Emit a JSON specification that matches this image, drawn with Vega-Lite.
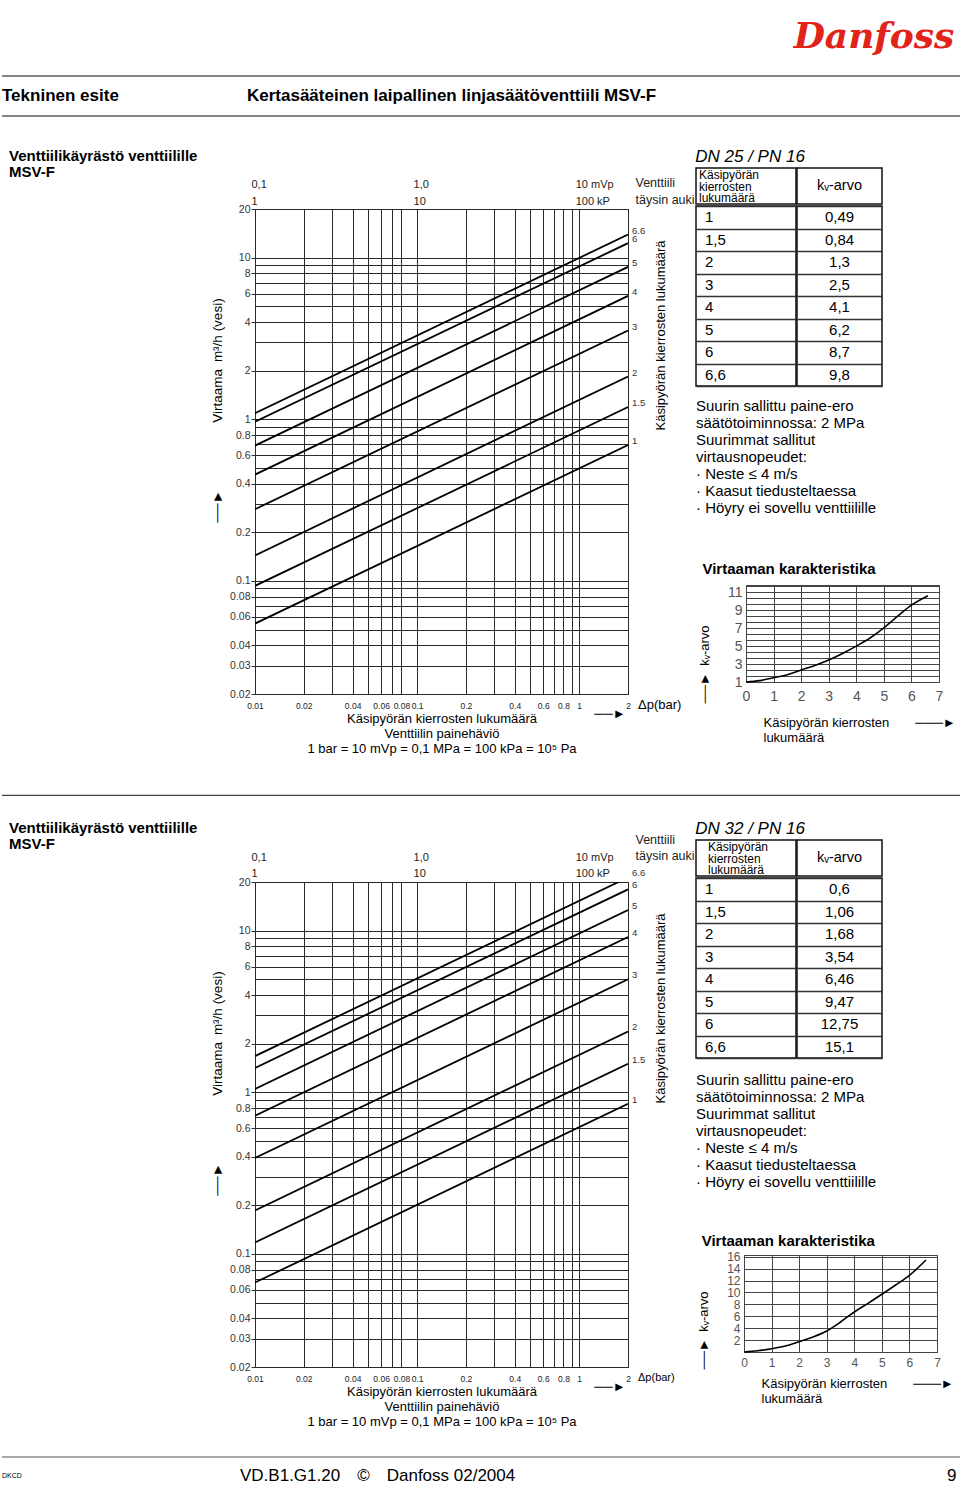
{
"$schema": "https://vega.github.io/schema/vega-lite/v6.json",
"background": "white",
"padding": 0,
"spacing": 0,
"config": {
  "font": "Liberation Sans, Arial, Helvetica, sans-serif",
  "view": {"stroke": "transparent"},
  "concat": {"spacing": 0},
  "title": {"color": "black", "fontWeight": "normal", "font": "Liberation Sans, Arial, sans-serif"},
  "axis": {"labelColor": "#222", "titleColor": "black", "titleFontWeight": "normal", "titleFont": "Liberation Sans, Arial, sans-serif"},
  "text": {"color": "black", "font": "Liberation Sans, Arial, sans-serif"}
},
"datasets": {
  "tyhjä": [],
  "dn25_lines": [
    {"kierrokset": "1", "dp": 0.01, "q": 0.0545}, {"kierrokset": "1", "dp": 2, "q": 0.693},
    {"kierrokset": "1.5", "dp": 0.01, "q": 0.0933}, {"kierrokset": "1.5", "dp": 2, "q": 1.19},
    {"kierrokset": "2", "dp": 0.01, "q": 0.144}, {"kierrokset": "2", "dp": 2, "q": 1.84},
    {"kierrokset": "3", "dp": 0.01, "q": 0.278}, {"kierrokset": "3", "dp": 2, "q": 3.54},
    {"kierrokset": "4", "dp": 0.01, "q": 0.455}, {"kierrokset": "4", "dp": 2, "q": 5.8},
    {"kierrokset": "5", "dp": 0.01, "q": 0.688}, {"kierrokset": "5", "dp": 2, "q": 8.77},
    {"kierrokset": "6", "dp": 0.01, "q": 0.966}, {"kierrokset": "6", "dp": 2, "q": 12.3},
    {"kierrokset": "6.6", "dp": 0.01, "q": 1.09}, {"kierrokset": "6.6", "dp": 2, "q": 13.9}
  ],
  "dn32_lines": [
    {"kierrokset": "1", "dp": 0.01, "q": 0.0666}, {"kierrokset": "1", "dp": 2, "q": 0.849},
    {"kierrokset": "1.5", "dp": 0.01, "q": 0.118}, {"kierrokset": "1.5", "dp": 2, "q": 1.5},
    {"kierrokset": "2", "dp": 0.01, "q": 0.186}, {"kierrokset": "2", "dp": 2, "q": 2.38},
    {"kierrokset": "3", "dp": 0.01, "q": 0.393}, {"kierrokset": "3", "dp": 2, "q": 5.01},
    {"kierrokset": "4", "dp": 0.01, "q": 0.717}, {"kierrokset": "4", "dp": 2, "q": 9.14},
    {"kierrokset": "5", "dp": 0.01, "q": 1.05}, {"kierrokset": "5", "dp": 2, "q": 13.4},
    {"kierrokset": "6", "dp": 0.01, "q": 1.415}, {"kierrokset": "6", "dp": 2, "q": 18.0},
    {"kierrokset": "6.6", "dp": 0.01, "q": 1.676}, {"kierrokset": "6.6", "dp": 2, "q": 21.35}
  ],
  "dn25_table": [
    {"kierrokset": "1", "kv": "0,49"}, {"kierrokset": "1,5", "kv": "0,84"}, {"kierrokset": "2", "kv": "1,3"},
    {"kierrokset": "3", "kv": "2,5"}, {"kierrokset": "4", "kv": "4,1"}, {"kierrokset": "5", "kv": "6,2"},
    {"kierrokset": "6", "kv": "8,7"}, {"kierrokset": "6,6", "kv": "9,8"}
  ],
  "dn32_table": [
    {"kierrokset": "1", "kv": "0,6"}, {"kierrokset": "1,5", "kv": "1,06"}, {"kierrokset": "2", "kv": "1,68"},
    {"kierrokset": "3", "kv": "3,54"}, {"kierrokset": "4", "kv": "6,46"}, {"kierrokset": "5", "kv": "9,47"},
    {"kierrokset": "6", "kv": "12,75"}, {"kierrokset": "6,6", "kv": "15,1"}
  ],
  "notes": [
    {"rivi": 1, "teksti": "Suurin sallittu paine-ero"},
    {"rivi": 2, "teksti": "säätötoiminnossa: 2 MPa"},
    {"rivi": 3, "teksti": "Suurimmat sallitut"},
    {"rivi": 4, "teksti": "virtausnopeudet:"},
    {"rivi": 5, "teksti": "· Neste ≤ 4 m/s"},
    {"rivi": 6, "teksti": "· Kaasut tiedusteltaessa"},
    {"rivi": 7, "teksti": "· Höyry ei sovellu venttiilille"}
  ],
  "dn25_curve": [
    {"kierrokset": 0, "kv": 1.0}, {"kierrokset": 0.5, "kv": 1.15}, {"kierrokset": 1, "kv": 1.48},
    {"kierrokset": 1.5, "kv": 1.8}, {"kierrokset": 2, "kv": 2.33}, {"kierrokset": 2.5, "kv": 2.85},
    {"kierrokset": 3, "kv": 3.45}, {"kierrokset": 3.5, "kv": 4.18}, {"kierrokset": 4, "kv": 5.0},
    {"kierrokset": 4.5, "kv": 5.9}, {"kierrokset": 5, "kv": 7.03}, {"kierrokset": 5.5, "kv": 8.33},
    {"kierrokset": 6, "kv": 9.55}, {"kierrokset": 6.6, "kv": 10.6}
  ],
  "dn32_curve": [
    {"kierrokset": 0, "kv": 0}, {"kierrokset": 0.5, "kv": 0.2}, {"kierrokset": 1, "kv": 0.56},
    {"kierrokset": 1.5, "kv": 1.0}, {"kierrokset": 2, "kv": 1.74}, {"kierrokset": 2.5, "kv": 2.52},
    {"kierrokset": 3, "kv": 3.53}, {"kierrokset": 3.5, "kv": 5.04}, {"kierrokset": 4, "kv": 6.72},
    {"kierrokset": 4.5, "kv": 8.18}, {"kierrokset": 5, "kv": 9.7}, {"kierrokset": 5.5, "kv": 11.26},
    {"kierrokset": 6, "kv": 12.88}, {"kierrokset": 6.6, "kv": 15.46}
  ]
},
"vconcat": [
  {
    "width": 960, "height": 145,
    "resolve": {"scale": {"x": "independent", "y": "independent"}},
    "layer": [
      {"data": {"values": [{"rivi": "ylä"}, {"rivi": "ala"}]},
       "mark": {"type": "rule", "stroke": "#858585", "strokeWidth": 1.8},
       "encoding": {"y": {"field": "rivi", "type": "nominal", "scale": {"type": "point", "domain": ["ylä", "teksti", "ala"], "range": [75, 115], "padding": 0}, "axis": null}}},
      {"data": {"values": [{"rivi": "teksti", "osa": "esite", "teksti": "Tekninen esite"}, {"rivi": "teksti", "osa": "tuote", "teksti": "Kertasääteinen laipallinen linjasäätöventtiili MSV-F"}]},
       "mark": {"type": "text", "align": "left", "baseline": "middle", "fontSize": 17, "fontWeight": "bold"},
       "encoding": {
         "x": {"field": "osa", "type": "nominal", "scale": {"type": "point", "domain": ["esite", "tuote"], "range": [0, 245], "padding": 0}, "axis": null},
         "y": {"field": "rivi", "type": "nominal", "scale": {"type": "point", "domain": ["ylä", "teksti", "ala"], "range": [75, 115], "padding": 0}, "axis": null},
         "text": {"field": "teksti", "type": "nominal"}}},
      {"data": {"values": [{"merkki": "Danfoss"}]},
       "mark": {"type": "text", "align": "center", "baseline": "middle", "font": "DejaVu Serif", "fontStyle": "italic", "fontWeight": "bold", "fontSize": 36, "color": "#e2231a"},
       "encoding": {
         "x": {"field": "merkki", "type": "nominal", "scale": {"type": "point", "range": [872, 872], "padding": 0}, "axis": null},
         "y": {"field": "merkki", "type": "nominal", "scale": {"type": "point", "range": [36, 36], "padding": 0}, "axis": null},
         "text": {"field": "merkki", "type": "nominal"}}}
    ]
  },
  {
    "hconcat": [
      {"width": 6, "height": 1, "data": {"name": "tyhjä"}, "mark": {"type": "text", "text": ""}, "encoding": {}},
      {"vconcat": [
        {"width": 1, "height": 1, "data": {"name": "tyhjä"}, "mark": {"type": "text", "text": ""}, "encoding": {}},
        {
          "width": 373, "height": 485,
          "view": {"stroke": "#111", "strokeWidth": 1},
          "title": {"text": ["Venttiilikäyrästö venttiilille", "MSV-F"], "anchor": "start", "frame": "group", "dx": -246, "offset": -4, "fontSize": 15, "fontWeight": "bold", "lineHeight": 16},
          "resolve": {"axis": {"x": "independent", "y": "independent"}},
          "layer": [
            {"data": {"name": "dn25_lines"},
             "mark": {"type": "line", "color": "black", "strokeWidth": 1.8, "clip": true},
             "encoding": {
               "x": {"field": "dp", "type": "quantitative", "scale": {"type": "log", "domain": [0.01, 2], "nice": false},
                     "axis": {"orient": "bottom", "values": [0.01,0.02,0.03,0.04,0.05,0.06,0.07,0.08,0.1,0.2,0.3,0.4,0.5,0.6,0.7,0.8,0.9,1,2],
                              "labelExpr": "indexof([0.01,0.02,0.04,0.06,0.08,0.1,0.2,0.4,0.6,0.8,1,2], datum.value) >= 0 ? '' + datum.value : ''",
                              "grid": true, "gridColor": "#2a2a2a", "gridWidth": 1, "gridOpacity": 1, "ticks": false, "tickSize": 0, "domain": false,
                              "labelFontSize": 8.5, "labelPadding": 7, "labelFlush": false, "labelOverlap": false, "labelBound": false,
                              "title": ["Käsipyörän kierrosten lukumäärä", "Venttiilin painehäviö", "1 bar = 10 mVp = 0,1 MPa = 100 kPa = 10⁵ Pa"],
                              "titleFontSize": 13, "titleLineHeight": 15, "titlePadding": 3}},
               "y": {"field": "q", "type": "quantitative", "scale": {"type": "log", "domain": [0.02, 20], "nice": false},
                     "axis": {"orient": "left", "values": [0.02,0.03,0.04,0.05,0.06,0.07,0.08,0.09,0.1,0.2,0.3,0.4,0.5,0.6,0.7,0.8,0.9,1,2,3,4,5,6,7,8,9,10,20],
                              "labelExpr": "indexof([0.02,0.03,0.04,0.06,0.08,0.1,0.2,0.4,0.6,0.8,1,2,4,6,8,10,20], datum.value) >= 0 ? '' + datum.value : ''",
                              "grid": true, "gridColor": "#2a2a2a", "gridWidth": 1, "gridOpacity": 1, "domain": false, "ticks": true, "tickSize": 4,
                              "tickColor": {"condition": {"test": "indexof([0.02,0.03,0.04,0.06,0.08,0.1,0.2,0.4,0.6,0.8,1,2,4,6,8,10,20], datum.value) >= 0", "value": "#333"}, "value": "transparent"},
                              "labelFontSize": 10.5, "labelColor": "#333", "labelPadding": 1, "labelFlush": false, "labelOverlap": false, "labelBound": false,
                              "title": "──►\u2003\u2003\u2003\u2003\u2003Virtaama\u2002m³/h (vesi)", "titleFontSize": 13.5, "titlePadding": 5, "titleY": 201}},
               "detail": {"field": "kierrokset", "type": "nominal"}}},
            {"data": {"name": "dn25_lines"},
             "transform": [{"filter": "datum.dp == 2"}],
             "mark": {"type": "text", "align": "left", "baseline": "middle", "dx": 4, "dy": -4, "fontSize": 9.5, "color": "#333"},
             "encoding": {
               "x": {"field": "dp", "type": "quantitative", "scale": {"type": "log", "domain": [0.01, 2], "nice": false},
                     "axis": {"orient": "top", "values": [0.01, 0.1, 1, 2],
                              "labelExpr": "datum.value == 0.01 ? ['0,1', '1'] : datum.value == 0.1 ? ['1,0', '10'] : datum.value == 1 ? ['10 mVp', '100 kP'] : ['Venttiili', 'täysin auki']",
                              "labelAlign": "left",
                              "labelOffset": {"condition": {"test": "datum.value == 2", "value": 7}, "value": -4},
                              "labelFontSize": {"condition": {"test": "datum.value == 2", "value": 12.5}, "value": 11},
                              "labelLineHeight": 17, "labelPadding": 20,
                              "grid": false, "ticks": false, "tickSize": 0, "domain": false, "title": null, "labelFlush": false, "labelOverlap": false, "labelBound": false}},
               "y": {"field": "q", "type": "quantitative", "scale": {"type": "log", "domain": [0.02, 20], "nice": false},
                     "axis": {"orient": "right", "labels": false, "ticks": false, "domain": false, "grid": false,
                              "title": "Käsipyörän kierrosten lukumäärä", "titleAngle": 270, "titleBaseline": "top", "titleY": 126, "titlePadding": 26, "titleFontSize": 13}},
               "text": {"field": "kierrokset", "type": "nominal"}}},
            {"data": {"values": [{"dp": 2, "q": 0.02, "yksikkö": "Δp(bar)"}]},
             "mark": {"type": "text", "align": "left", "baseline": "middle", "dx": 10, "dy": 11, "fontSize": 13},
             "encoding": {
               "x": {"field": "dp", "type": "quantitative", "scale": {"type": "log", "domain": [0.01, 2], "nice": false}, "axis": null},
               "y": {"field": "q", "type": "quantitative", "scale": {"type": "log", "domain": [0.02, 20], "nice": false}, "axis": null},
               "text": {"field": "yksikkö", "type": "nominal"}}},
            {"data": {"values": [{"dp": 2, "q": 0.02}]},
             "mark": {"type": "text", "text": "──►", "align": "center", "baseline": "middle", "dx": -18, "dy": 20, "fontSize": 13},
             "encoding": {
               "x": {"field": "dp", "type": "quantitative", "scale": {"type": "log", "domain": [0.01, 2], "nice": false}, "axis": null},
               "y": {"field": "q", "type": "quantitative", "scale": {"type": "log", "domain": [0.02, 20], "nice": false}, "axis": null}}}
          ]
        }
      ]},
      {"vconcat": [
        {"width": 1, "height": 1, "data": {"name": "tyhjä"}, "mark": {"type": "text", "text": ""}, "encoding": {}},
        {
          "title": {"text": "DN 25 / PN 16", "anchor": "start", "fontSize": 17, "fontStyle": "italic", "offset": 1},
          "spacing": -1,
          "hconcat": [
            {"spacing": 0, "vconcat": [
              {"width": 100, "height": 36, "view": {"stroke": "#111", "strokeWidth": 1.5},
               "data": {"values": [{"otsikko": ["Käsipyörän", "kierrosten", "lukumäärä"]}]},
               "mark": {"type": "text", "align": "left", "baseline": "middle", "dx": -47, "dy": -11, "fontSize": 12, "lineHeight": 11.5},
               "encoding": {"text": {"field": "otsikko", "type": "nominal"}}},
              {"width": 100, "height": 180, "view": {"stroke": "#111", "strokeWidth": 1.5},
               "data": {"name": "dn25_table"},
               "mark": {"type": "text", "align": "left", "baseline": "middle", "dx": -41, "fontSize": 15},
               "encoding": {
                 "y": {"field": "kierrokset", "type": "nominal", "sort": null, "scale": {"type": "band", "paddingInner": 0, "paddingOuter": 0},
                       "axis": {"grid": true, "tickBand": "extent", "labels": false, "ticks": false, "domain": false, "title": null, "gridColor": "#333", "gridWidth": 1.3}},
                 "text": {"field": "kierrokset", "type": "nominal"}}}
            ]},
            {"spacing": 0, "vconcat": [
              {"width": 85, "height": 36, "view": {"stroke": "#111", "strokeWidth": 1.5},
               "data": {"values": [{"otsikko": "kᵥ-arvo"}]},
               "mark": {"type": "text", "align": "center", "baseline": "middle", "fontSize": 14.5},
               "encoding": {"text": {"field": "otsikko", "type": "nominal"}}},
              {"width": 85, "height": 180, "view": {"stroke": "#111", "strokeWidth": 1.5},
               "data": {"name": "dn25_table"},
               "mark": {"type": "text", "align": "center", "baseline": "middle", "fontSize": 15},
               "encoding": {
                 "y": {"field": "kierrokset", "type": "nominal", "sort": null, "scale": {"type": "band", "paddingInner": 0, "paddingOuter": 0},
                       "axis": {"grid": true, "tickBand": "extent", "labels": false, "ticks": false, "domain": false, "title": null, "gridColor": "#333", "gridWidth": 1.3}},
                 "text": {"field": "kv", "type": "nominal"}}}
            ]}
          ]
        },
        {
          "width": 1, "height": 172,
          "data": {"name": "notes"},
          "mark": {"type": "text", "align": "left", "baseline": "middle", "fontSize": 15, "dx": -0.5},
          "encoding": {
            "y": {"field": "rivi", "type": "ordinal", "scale": {"type": "band", "range": [10, 128], "paddingInner": 0, "paddingOuter": 0}, "axis": null},
            "text": {"field": "teksti", "type": "nominal"}}
        },
        {"hconcat": [
          {"width": 1, "height": 1, "data": {"name": "tyhjä"}, "mark": {"type": "text", "text": ""}, "encoding": {}},
          {
            "width": 193, "height": 97,
            "view": {"stroke": "#444", "strokeWidth": 1},
            "title": {"text": "Virtaaman karakteristika", "anchor": "start", "frame": "bounds", "fontSize": 15, "fontWeight": "bold", "offset": 2, "dx": 4},
            "data": {"name": "dn25_curve"},
            "mark": {"type": "line", "color": "black", "strokeWidth": 1.6, "interpolate": "monotone"},
            "encoding": {
              "x": {"field": "kierrokset", "type": "quantitative", "scale": {"domain": [0, 7], "nice": false, "zero": false},
                    "axis": {"values": [0,1,2,3,4,5,6,7], "format": "d", "grid": true, "gridColor": "#444", "gridWidth": 1,
                             "ticks": false, "tickSize": 0, "domain": false,
                             "labelFontSize": 14, "labelColor": "#555", "labelPadding": 7, "labelFlush": false, "labelBound": false, "labelOverlap": false,
                             "title": ["Käsipyörän kierrosten\u2003\u2003───►", "lukumäärä"], "titleAnchor": "start", "titleAlign": "left", "titleX": 17, "titleFontSize": 13, "titleLineHeight": 15, "titlePadding": 13}},
              "y": {"field": "kv", "type": "quantitative", "scale": {"domain": [1, 11.8], "nice": false, "zero": false},
                    "axis": {"values": [1,1.6667,2.3333,3,3.6667,4.3333,5,5.6667,6.3333,7,7.6667,8.3333,9,9.6667,10.3333,11,11.6667],
                             "labelExpr": "indexof([1,3,5,7,9,11], datum.value) >= 0 ? '' + datum.value : ''",
                             "grid": true, "gridColor": "#444", "gridWidth": 1, "ticks": false, "tickSize": 0, "domain": false,
                             "labelFontSize": 14, "labelColor": "#555", "labelPadding": 4, "labelFlush": false, "labelOverlap": false, "labelBound": false,
                             "title": "──►\u2002kᵥ-arvo", "titleFontSize": 13, "titlePadding": 16, "titleY": 79}}}
          }
        ]}
      ]}
    ]
  },
  {
    "width": 960, "height": 61,
    "data": {"values": [{"erotin": "osio"}]},
    "mark": {"type": "rule", "stroke": "#444", "strokeWidth": 1.3},
    "encoding": {"y": {"field": "erotin", "type": "nominal", "scale": {"type": "point", "padding": 0, "align": 0.63}, "axis": null}}
  },
  {
    "hconcat": [
      {"width": 6, "height": 1, "data": {"name": "tyhjä"}, "mark": {"type": "text", "text": ""}, "encoding": {}},
      {"vconcat": [
        {"width": 1, "height": 1, "data": {"name": "tyhjä"}, "mark": {"type": "text", "text": ""}, "encoding": {}},
        {
          "width": 373, "height": 485,
          "view": {"stroke": "#111", "strokeWidth": 1},
          "title": {"text": ["Venttiilikäyrästö venttiilille", "MSV-F"], "anchor": "start", "frame": "group", "dx": -246, "offset": -19, "fontSize": 15, "fontWeight": "bold", "lineHeight": 16},
          "resolve": {"axis": {"x": "independent", "y": "independent"}},
          "layer": [
            {"data": {"name": "dn32_lines"},
             "mark": {"type": "line", "color": "black", "strokeWidth": 1.8, "clip": true},
             "encoding": {
               "x": {"field": "dp", "type": "quantitative", "scale": {"type": "log", "domain": [0.01, 2], "nice": false},
                     "axis": {"orient": "bottom", "values": [0.01,0.02,0.03,0.04,0.05,0.06,0.07,0.08,0.1,0.2,0.3,0.4,0.5,0.6,0.7,0.8,0.9,1,2],
                              "labelExpr": "indexof([0.01,0.02,0.04,0.06,0.08,0.1,0.2,0.4,0.6,0.8,1,2], datum.value) >= 0 ? '' + datum.value : ''",
                              "grid": true, "gridColor": "#2a2a2a", "gridWidth": 1, "gridOpacity": 1, "ticks": false, "tickSize": 0, "domain": false,
                              "labelFontSize": 8.5, "labelPadding": 7, "labelFlush": false, "labelOverlap": false, "labelBound": false,
                              "title": ["Käsipyörän kierrosten lukumäärä", "Venttiilin painehäviö", "1 bar = 10 mVp = 0,1 MPa = 100 kPa = 10⁵ Pa"],
                              "titleFontSize": 13, "titleLineHeight": 15, "titlePadding": 3}},
               "y": {"field": "q", "type": "quantitative", "scale": {"type": "log", "domain": [0.02, 20], "nice": false},
                     "axis": {"orient": "left", "values": [0.02,0.03,0.04,0.05,0.06,0.07,0.08,0.09,0.1,0.2,0.3,0.4,0.5,0.6,0.7,0.8,0.9,1,2,3,4,5,6,7,8,9,10,20],
                              "labelExpr": "indexof([0.02,0.03,0.04,0.06,0.08,0.1,0.2,0.4,0.6,0.8,1,2,4,6,8,10,20], datum.value) >= 0 ? '' + datum.value : ''",
                              "grid": true, "gridColor": "#2a2a2a", "gridWidth": 1, "gridOpacity": 1, "domain": false, "ticks": true, "tickSize": 4,
                              "tickColor": {"condition": {"test": "indexof([0.02,0.03,0.04,0.06,0.08,0.1,0.2,0.4,0.6,0.8,1,2,4,6,8,10,20], datum.value) >= 0", "value": "#333"}, "value": "transparent"},
                              "labelFontSize": 10.5, "labelColor": "#333", "labelPadding": 1, "labelFlush": false, "labelOverlap": false, "labelBound": false,
                              "title": "──►\u2003\u2003\u2003\u2003\u2003Virtaama\u2002m³/h (vesi)", "titleFontSize": 13.5, "titlePadding": 5, "titleY": 201}},
               "detail": {"field": "kierrokset", "type": "nominal"}}},
            {"data": {"name": "dn32_lines"},
             "transform": [{"filter": "datum.dp == 2"}],
             "mark": {"type": "text", "align": "left", "baseline": "middle", "dx": 4, "dy": -4, "fontSize": 9.5, "color": "#333"},
             "encoding": {
               "x": {"field": "dp", "type": "quantitative", "scale": {"type": "log", "domain": [0.01, 2], "nice": false},
                     "axis": {"orient": "top", "values": [0.01, 0.1, 1, 2],
                              "labelExpr": "datum.value == 0.01 ? ['0,1', '1'] : datum.value == 0.1 ? ['1,0', '10'] : datum.value == 1 ? ['10 mVp', '100 kP'] : ['Venttiili', 'täysin auki']",
                              "labelAlign": "left",
                              "labelOffset": {"condition": {"test": "datum.value == 2", "value": 7}, "value": -4},
                              "labelFontSize": {"condition": {"test": "datum.value == 2", "value": 12.5}, "value": 11},
                              "labelPadding": {"condition": {"test": "datum.value == 2", "value": 36}, "value": 20},
                              "labelLineHeight": 16,
                              "grid": false, "ticks": false, "tickSize": 0, "domain": false, "title": null, "labelFlush": false, "labelOverlap": false, "labelBound": false}},
               "y": {"field": "q", "type": "quantitative", "scale": {"type": "log", "domain": [0.02, 20], "nice": false},
                     "axis": {"orient": "right", "labels": false, "ticks": false, "domain": false, "grid": false,
                              "title": "Käsipyörän kierrosten lukumäärä", "titleAngle": 270, "titleBaseline": "top", "titleY": 126, "titlePadding": 26, "titleFontSize": 13}},
               "text": {"field": "kierrokset", "type": "nominal"}}},
            {"data": {"values": [{"dp": 2, "q": 0.02, "yksikkö": "Δp(bar)"}]},
             "mark": {"type": "text", "align": "left", "baseline": "middle", "dx": 10, "dy": 11, "fontSize": 11},
             "encoding": {
               "x": {"field": "dp", "type": "quantitative", "scale": {"type": "log", "domain": [0.01, 2], "nice": false}, "axis": null},
               "y": {"field": "q", "type": "quantitative", "scale": {"type": "log", "domain": [0.02, 20], "nice": false}, "axis": null},
               "text": {"field": "yksikkö", "type": "nominal"}}},
            {"data": {"values": [{"dp": 2, "q": 0.02}]},
             "mark": {"type": "text", "text": "──►", "align": "center", "baseline": "middle", "dx": -18, "dy": 20, "fontSize": 13},
             "encoding": {
               "x": {"field": "dp", "type": "quantitative", "scale": {"type": "log", "domain": [0.01, 2], "nice": false}, "axis": null},
               "y": {"field": "q", "type": "quantitative", "scale": {"type": "log", "domain": [0.02, 20], "nice": false}, "axis": null}}}
          ]
        }
      ]},
      {"vconcat": [
        {"width": 1, "height": 1, "data": {"name": "tyhjä"}, "mark": {"type": "text", "text": ""}, "encoding": {}},
        {
          "title": {"text": "DN 32 / PN 16", "anchor": "start", "fontSize": 17, "fontStyle": "italic", "offset": 1},
          "spacing": -1,
          "hconcat": [
            {"spacing": 0, "vconcat": [
              {"width": 100, "height": 36, "view": {"stroke": "#111", "strokeWidth": 1.5},
               "data": {"values": [{"otsikko": ["Käsipyörän", "kierrosten", "lukumäärä"]}]},
               "mark": {"type": "text", "align": "left", "baseline": "middle", "dx": -38, "dy": -11, "fontSize": 12, "lineHeight": 11.5},
               "encoding": {"text": {"field": "otsikko", "type": "nominal"}}},
              {"width": 100, "height": 180, "view": {"stroke": "#111", "strokeWidth": 1.5},
               "data": {"name": "dn32_table"},
               "mark": {"type": "text", "align": "left", "baseline": "middle", "dx": -41, "fontSize": 15},
               "encoding": {
                 "y": {"field": "kierrokset", "type": "nominal", "sort": null, "scale": {"type": "band", "paddingInner": 0, "paddingOuter": 0},
                       "axis": {"grid": true, "tickBand": "extent", "labels": false, "ticks": false, "domain": false, "title": null, "gridColor": "#333", "gridWidth": 1.3}},
                 "text": {"field": "kierrokset", "type": "nominal"}}}
            ]},
            {"spacing": 0, "vconcat": [
              {"width": 85, "height": 36, "view": {"stroke": "#111", "strokeWidth": 1.5},
               "data": {"values": [{"otsikko": "kᵥ-arvo"}]},
               "mark": {"type": "text", "align": "center", "baseline": "middle", "fontSize": 14.5},
               "encoding": {"text": {"field": "otsikko", "type": "nominal"}}},
              {"width": 85, "height": 180, "view": {"stroke": "#111", "strokeWidth": 1.5},
               "data": {"name": "dn32_table"},
               "mark": {"type": "text", "align": "center", "baseline": "middle", "fontSize": 15},
               "encoding": {
                 "y": {"field": "kierrokset", "type": "nominal", "sort": null, "scale": {"type": "band", "paddingInner": 0, "paddingOuter": 0},
                       "axis": {"grid": true, "tickBand": "extent", "labels": false, "ticks": false, "domain": false, "title": null, "gridColor": "#333", "gridWidth": 1.3}},
                 "text": {"field": "kv", "type": "nominal"}}}
            ]}
          ]
        },
        {
          "width": 1, "height": 172,
          "data": {"name": "notes"},
          "mark": {"type": "text", "align": "left", "baseline": "middle", "fontSize": 15, "dx": -0.5},
          "encoding": {
            "y": {"field": "rivi", "type": "ordinal", "scale": {"type": "band", "range": [12, 130], "paddingInner": 0, "paddingOuter": 0}, "axis": null},
            "text": {"field": "teksti", "type": "nominal"}}
        },
        {"hconcat": [
          {"width": 1, "height": 1, "data": {"name": "tyhjä"}, "mark": {"type": "text", "text": ""}, "encoding": {}},
          {
            "width": 193, "height": 97,
            "view": {"stroke": "#444", "strokeWidth": 1},
            "title": {"text": "Virtaaman karakteristika", "anchor": "start", "frame": "bounds", "fontSize": 15, "fontWeight": "bold", "offset": 2, "dx": 4},
            "data": {"name": "dn32_curve"},
            "mark": {"type": "line", "color": "black", "strokeWidth": 1.6, "interpolate": "monotone"},
            "encoding": {
              "x": {"field": "kierrokset", "type": "quantitative", "scale": {"domain": [0, 7], "nice": false, "zero": false},
                    "axis": {"values": [0,1,2,3,4,5,6,7], "format": "d", "grid": true, "gridColor": "#444", "gridWidth": 1,
                             "ticks": false, "tickSize": 0, "domain": false,
                             "labelFontSize": 12, "labelColor": "#555", "labelPadding": 5, "labelFlush": false, "labelBound": false, "labelOverlap": false,
                             "title": ["Käsipyörän kierrosten\u2003\u2003───►", "lukumäärä"], "titleAnchor": "start", "titleAlign": "left", "titleX": 17, "titleFontSize": 13, "titleLineHeight": 15, "titlePadding": 9}},
              "y": {"field": "kv", "type": "quantitative", "scale": {"domain": [0, 16.3], "nice": false, "zero": false},
                    "axis": {"values": [0,2,4,6,8,10,12,14,16],
                             "labelExpr": "datum.value == 0 ? '' : '' + datum.value",
                             "grid": true, "gridColor": "#444", "gridWidth": 1, "ticks": false, "tickSize": 0, "domain": false,
                             "labelFontSize": 12, "labelColor": "#555", "labelPadding": 4, "labelFlush": false, "labelOverlap": false, "labelBound": false,
                             "title": "──►\u2002kᵥ-arvo", "titleFontSize": 13, "titlePadding": 16, "titleY": 75}}}
          }
        ]}
      ]}
    ]
  },
  {
    "width": 960, "height": 56,
    "resolve": {"scale": {"x": "independent"}},
    "layer": [
      {"data": {"values": [{"rivi": "viiva"}]},
       "mark": {"type": "rule", "stroke": "#555", "strokeWidth": 1.2},
       "encoding": {"y": {"field": "rivi", "type": "nominal", "scale": {"type": "point", "domain": ["viiva", "teksti"], "range": [27, 46], "padding": 0}, "axis": null}}},
      {"data": {"values": [{"rivi": "teksti", "osa": "koodi", "teksti": "DKCD"}]},
       "mark": {"type": "text", "align": "left", "baseline": "middle", "fontSize": 7},
       "encoding": {
         "x": {"field": "osa", "type": "nominal", "scale": {"type": "point", "domain": ["koodi"], "range": [0, 0], "padding": 0}, "axis": null},
         "y": {"field": "rivi", "type": "nominal", "scale": {"type": "point", "domain": ["viiva", "teksti"], "range": [27, 46], "padding": 0}, "axis": null},
         "text": {"field": "teksti", "type": "nominal"}}},
      {"data": {"values": [{"rivi": "teksti", "osa": "julkaisu", "teksti": "VD.B1.G1.20\u2002\u2002©\u2002\u2002Danfoss 02/2004"}, {"rivi": "teksti", "osa": "sivu", "teksti": "9"}]},
       "mark": {"type": "text", "align": "left", "baseline": "middle", "fontSize": 17},
       "encoding": {
         "x": {"field": "osa", "type": "nominal", "scale": {"type": "point", "domain": ["julkaisu", "sivu"], "range": [238, 945], "padding": 0}, "axis": null},
         "y": {"field": "rivi", "type": "nominal", "scale": {"type": "point", "domain": ["viiva", "teksti"], "range": [27, 46], "padding": 0}, "axis": null},
         "text": {"field": "teksti", "type": "nominal"}}}
    ]
  }
]
}
